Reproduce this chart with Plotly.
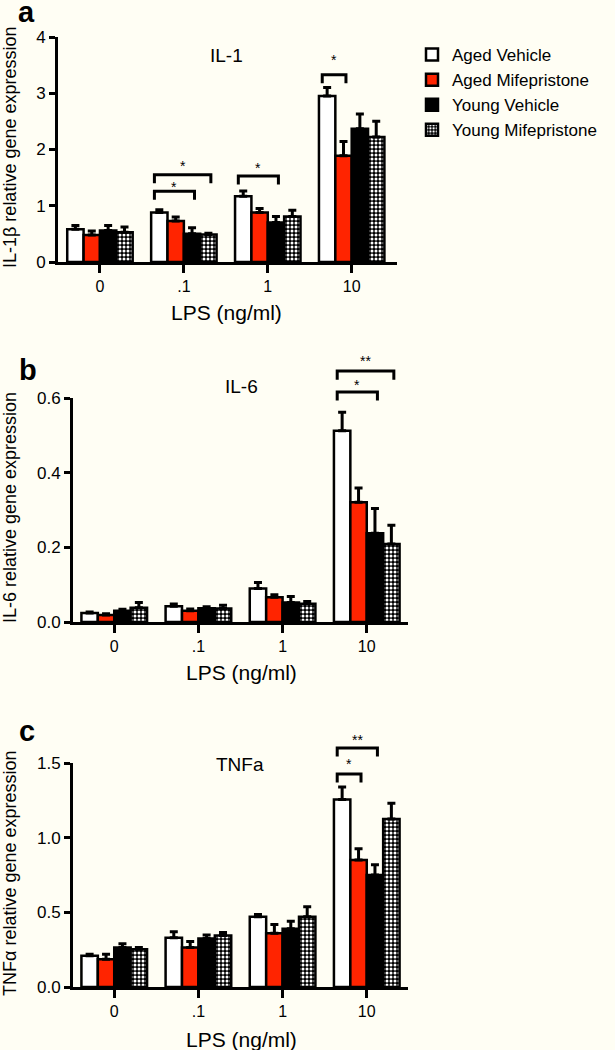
import plotly.graph_objects as go

# ---------------- data ----------------
categories = ["0", ".1", "1", "10"]
series_names = ["Aged Vehicle", "Aged Mifepristone", "Young Vehicle", "Young Mifepristone"]

# IL-1beta
il1_aged_vehicle = [0.58, 0.88, 1.17, 2.95]
il1_aged_mife = [0.48, 0.73, 0.88, 1.89]
il1_young_vehicle = [0.56, 0.50, 0.70, 2.37]
il1_young_mife = [0.53, 0.49, 0.81, 2.22]
il1_err_aged_vehicle = [0.07, 0.05, 0.09, 0.15]
il1_err_aged_mife = [0.07, 0.07, 0.07, 0.25]
il1_err_young_vehicle = [0.09, 0.11, 0.11, 0.26]
il1_err_young_mife = [0.09, 0.02, 0.11, 0.28]

# IL-6
il6_aged_vehicle = [0.024, 0.042, 0.090, 0.512]
il6_aged_mife = [0.019, 0.030, 0.066, 0.321]
il6_young_vehicle = [0.030, 0.037, 0.052, 0.238]
il6_young_mife = [0.038, 0.036, 0.049, 0.209]
il6_err_aged_vehicle = [0.003, 0.006, 0.016, 0.050]
il6_err_aged_mife = [0.003, 0.005, 0.007, 0.038]
il6_err_young_vehicle = [0.004, 0.004, 0.016, 0.066]
il6_err_young_mife = [0.014, 0.009, 0.006, 0.050]

# TNF-alpha
tnf_aged_vehicle = [0.21, 0.33, 0.47, 1.255]
tnf_aged_mife = [0.185, 0.265, 0.36, 0.85]
tnf_young_vehicle = [0.265, 0.325, 0.39, 0.75]
tnf_young_mife = [0.252, 0.345, 0.47, 1.125]
tnf_err_aged_vehicle = [0.01, 0.04, 0.016, 0.085]
tnf_err_aged_mife = [0.035, 0.04, 0.058, 0.075]
tnf_err_young_vehicle = [0.025, 0.023, 0.05, 0.068]
tnf_err_young_mife = [0.012, 0.02, 0.067, 0.105]

# significance brackets: (category index, first series, last series, bracket level, star level, label)
il1_brackets = [(1, 0, 3, 1.55, 1.76, "*"), (1, 0, 2, 1.26, 1.39, "*"),
                (2, 0, 2, 1.53, 1.72, "*"), (3, 0, 1, 3.33, 3.64, "*")]
il6_brackets = [(3, 0, 3, 0.672, 0.707, "**"), (3, 0, 2, 0.616, 0.643, "*")]
tnf_brackets = [(3, 0, 2, 1.60, 1.675, "**"), (3, 0, 1, 1.427, 1.514, "*")]

# ---------------- style ----------------
BG = "#FFFEF4"
RED = "#FF2400"
FONT = "Liberation Sans, Arial, sans-serif"
W, H = 615, 1050
BARGAP = 0.22

def px(x):
    return x / W

def py(y):
    return 1 - y / H

series_styles = [
    dict(color="white"),
    dict(color=RED),
    dict(color="black"),
    dict(color="black", pattern=dict(shape=".", fgcolor="white", bgcolor="black",
                                      size=4, solidity=0.45, fillmode="replace")),
]

panels = [
    dict(values=[il1_aged_vehicle, il1_aged_mife, il1_young_vehicle, il1_young_mife],
         errors=[il1_err_aged_vehicle, il1_err_aged_mife, il1_err_young_vehicle, il1_err_young_mife],
         brackets=il1_brackets, yrange=[0, 4], dtick=1, tickformat="d",
         xdom=[px(58), px(397)], xrange=[-0.5, 3.54], ydom=[py(262), py(37)],
         letter="a", letter_pos=(26, 12), title="IL-1", title_pos=(226, 55),
         ytitle="IL-1β relative gene expression", ytitle_pos=(10, 147), xtitle_y=312, xtitle_x=226),
    dict(values=[il6_aged_vehicle, il6_aged_mife, il6_young_vehicle, il6_young_mife],
         errors=[il6_err_aged_vehicle, il6_err_aged_mife, il6_err_young_vehicle, il6_err_young_mife],
         brackets=il6_brackets, yrange=[0, 0.6], dtick=0.2, tickformat=".1f",
         xdom=[px(73), px(408)], xrange=[-0.49, 3.49], ydom=[py(622), py(398)],
         letter="b", letter_pos=(28, 370), title="IL-6", title_pos=(241, 386),
         ytitle="IL-6 relative gene expression", ytitle_pos=(10, 508), xtitle_y=672, xtitle_x=241),
    dict(values=[tnf_aged_vehicle, tnf_aged_mife, tnf_young_vehicle, tnf_young_mife],
         errors=[tnf_err_aged_vehicle, tnf_err_aged_mife, tnf_err_young_vehicle, tnf_err_young_mife],
         brackets=tnf_brackets, yrange=[0, 1.5], dtick=0.5, tickformat=".1f",
         xdom=[px(73), px(408)], xrange=[-0.49, 3.49], ydom=[py(987), py(763)],
         letter="c", letter_pos=(27, 731), title="TNFa", title_pos=(240, 764),
         ytitle="TNFα relative gene expression", ytitle_pos=(10, 873), xtitle_y=1039, xtitle_x=241),
]

fig = go.Figure()
layout = dict(width=W, height=H, autosize=False, margin=dict(l=0, r=0, t=0, b=0, pad=0, autoexpand=False),
              paper_bgcolor=BG, plot_bgcolor=BG, barmode="group", bargap=BARGAP,
              bargroupgap=0.0, font=dict(family=FONT, color="black"),
              showlegend=True,
              legend=dict(x=px(412), y=py(37), xanchor="left", yanchor="top",
                          xref="container", yref="container",
                          font=dict(size=17, family=FONT, color="black"),
                          bgcolor="rgba(0,0,0,0)", traceorder="normal", borderwidth=0,
                          tracegroupgap=0, itemclick=False))
annotations = []
shapes = []
xpos = list(range(len(categories)))
bar_w = (1 - BARGAP) / len(series_names)

def bar_center(cat, j):
    return cat - (1 - BARGAP) / 2 + bar_w * (j + 0.5)

def txt(x, y, text, size, xref="paper", yref="paper", **kw):
    d = dict(x=x, y=y, xref=xref, yref=yref, text=text, showarrow=False,
             xanchor="center", yanchor="middle",
             font=dict(size=size, family=FONT, color="black"))
    d.update(kw)
    return d

for p_i, p in enumerate(panels):
    sfx = "" if p_i == 0 else str(p_i + 1)
    xa, ya = "x" + sfx, "y" + sfx
    for j, name in enumerate(series_names):
        st = series_styles[j]
        marker = dict(color=st["color"], line=dict(color="black", width=2.5))
        if "pattern" in st:
            marker["pattern"] = st["pattern"]
        fig.add_trace(go.Bar(
            x=xpos, y=p["values"][j], name=name, xaxis=xa, yaxis=ya,
            marker=marker, legendgroup=name, showlegend=(p_i == 0),
            error_y=dict(type="data", symmetric=False, array=p["errors"][j],
                         arrayminus=[0] * len(categories), color="black",
                         thickness=3, width=4),
        ))
    layout["xaxis" + sfx] = dict(domain=p["xdom"], range=p["xrange"], anchor=ya,
                                 tickmode="array", tickvals=xpos, ticktext=categories,
                                 showline=True, linecolor="black", linewidth=3,
                                 ticks="outside", ticklen=8, tickwidth=3, tickcolor="black",
                                 showgrid=False, zeroline=False, automargin=False,
                                 tickfont=dict(size=16, family=FONT, color="black"))
    layout["yaxis" + sfx] = dict(domain=p["ydom"], range=p["yrange"], anchor=xa,
                                 dtick=p["dtick"], tick0=0, tickformat=p["tickformat"],
                                 showline=True, linecolor="black", linewidth=3,
                                 ticks="outside", ticklen=6, tickwidth=3, tickcolor="black",
                                 showgrid=False, zeroline=False, automargin=False,
                                 tickfont=dict(size=17, family=FONT, color="black"))
    ymax = p["yrange"][1]
    leg = 0.038
    for (cat, j1, j2, level, star, label) in p["brackets"]:
        x0 = bar_center(cat, j1) - 0.3 * bar_w
        x1 = bar_center(cat, j2) + 0.15 * bar_w
        yl = level / ymax
        shapes.append(dict(type="path", xref=xa, yref=ya + " domain",
                           path=f"M {x0},{yl - leg} L {x0},{yl} L {x1},{yl} L {x1},{yl - leg}",
                           line=dict(color="black", width=3)))
        annotations.append(txt((x0 + x1) / 2, star / ymax, label, 14, xref=xa,
                               yref=ya + " domain", yshift=-3))
    annotations.append(txt(px(p["letter_pos"][0]), py(p["letter_pos"][1]),
                           f"<b>{p['letter']}</b>", 29))
    annotations.append(txt(px(p["title_pos"][0]), py(p["title_pos"][1]), p["title"], 19))
    annotations.append(txt(px(p["ytitle_pos"][0]), py(p["ytitle_pos"][1]), p["ytitle"], 18,
                           textangle=-90))
    annotations.append(txt(px(p["xtitle_x"]), py(p["xtitle_y"]), "LPS (ng/ml)", 21))

layout["annotations"] = annotations
layout["shapes"] = shapes
fig.update_layout(**layout)
fig.write_html("out.html", config={"displayModeBar": False},
               post_script="document.body.style.margin='0';document.body.style.overflow='hidden';")
